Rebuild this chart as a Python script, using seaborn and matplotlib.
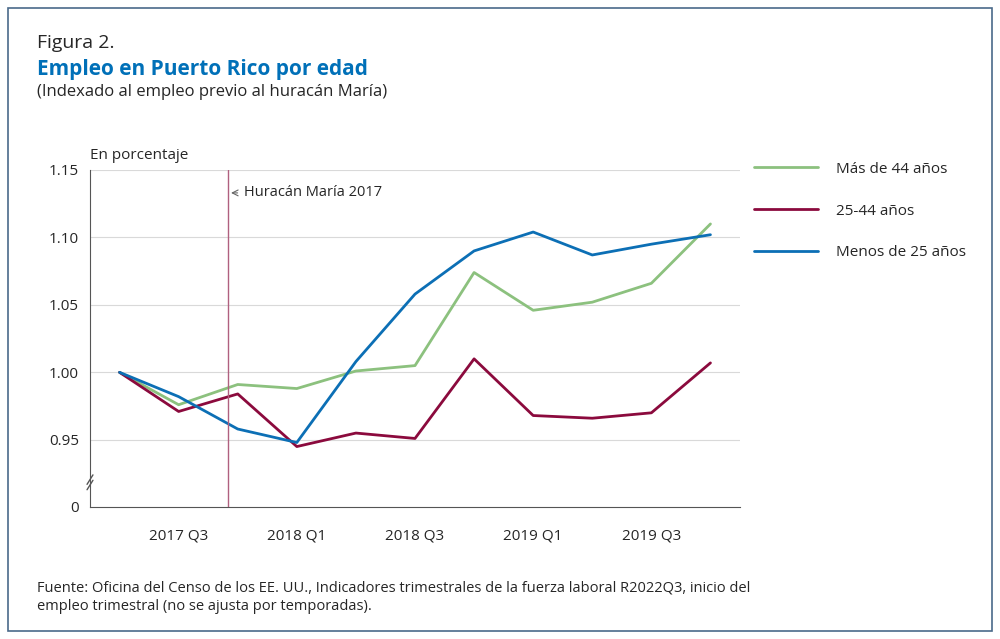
import matplotlib
matplotlib.use("Agg")
import matplotlib.pyplot as plt
import seaborn as sns
import pandas as pd
from matplotlib.patches import Rectangle

quarters = ["2017 Q2","2017 Q3","2017 Q4","2018 Q1","2018 Q2","2018 Q3","2018 Q4","2019 Q1","2019 Q2","2019 Q3","2019 Q4"]
mas_44 = [1.000,0.976,0.991,0.988,1.001,1.005,1.074,1.046,1.052,1.066,1.110]
de_25_44 = [1.000,0.971,0.984,0.945,0.955,0.951,1.010,0.968,0.966,0.970,1.007]
menos_25 = [1.000,0.982,0.958,0.948,1.008,1.058,1.090,1.104,1.087,1.095,1.102]
series_names = ["Más de 44 años","25-44 años","Menos de 25 años"]
colors = ["#8cc17e","#8b0a3d","#0c6fb5"]
ytick_vals = [0.95,1.00,1.05,1.10,1.15]
ytick_labels = ["0.95","1.00","1.05","1.10","1.15"]

rows = []
for name, vals in zip(series_names,[mas_44,de_25_44,menos_25]):
    for i,v in enumerate(vals):
        rows.append({"x":i,"v":v,"serie":name})
df = pd.DataFrame(rows)

sns.set_style("white")
plt.rcParams["font.family"] = ["Open Sans","DejaVu Sans"]
fig = plt.figure(figsize=(10,6.39), dpi=100)
fig.patches.append(Rectangle((0.008,0.012),0.984,0.976,transform=fig.transFigure,fill=False,edgecolor="#4a6a8a",lw=1.2))
ax = fig.add_axes([0.09,0.207,0.65,0.527])
sns.lineplot(data=df,x="x",y="v",hue="serie",palette=colors,hue_order=series_names,lw=2,ax=ax,legend=True)
ybot = 0.9004
ax.set_xlim(-0.5,10.5); ax.set_ylim(ybot,1.15)
ax.set_yticks([ybot]+ytick_vals); ax.set_yticklabels(["0"]+ytick_labels,fontsize=11)
ax.set_xticks(range(11))
ax.set_xticklabels([q if i%2==1 else "" for i,q in enumerate(quarters)],fontsize=11)
ax.tick_params(axis="x",length=8,color="#555",pad=8)
ax.tick_params(axis="y",length=0,pad=8)
for y in ytick_vals:
    ax.axhline(y,color="#d9d9d9",lw=0.8,zorder=0)
for s in ["top","right"]: ax.spines[s].set_visible(False)
ax.spines["left"].set_color("#555"); ax.spines["bottom"].set_color("#555")
ax.plot([-0.55,-0.45],[0.917,0.924],color="#555",lw=1,clip_on=False)
ax.plot([-0.55,-0.45],[0.913,0.920],color="#555",lw=1,clip_on=False)
ax.axvline(1.84,color="#b0607f",lw=1)
ax.annotate("Huracán María 2017",xy=(1.84,1.133),xytext=(2.1,1.133),fontsize=10.5,va="center",
            arrowprops=dict(arrowstyle="->",color="#666",lw=0.8))
ax.set_xlabel(""); ax.set_ylabel("")
ax.text(-0.5,1.158,"En porcentaje",fontsize=11)
leg = ax.legend(loc="upper left",bbox_to_anchor=(1.0,1.065),frameon=False,fontsize=11,
                labelspacing=1.75,handlelength=4.2,handletextpad=1.2)
for h in leg.get_lines(): h.set_linewidth(2)
fig.text(0.037,0.925,"Figura 2.",fontsize=14)
fig.text(0.037,0.882,"Empleo en Puerto Rico por edad",fontsize=15,fontweight="bold",color="#0070b8")
fig.text(0.037,0.850,"(Indexado al empleo previo al huracán María)",fontsize=12)
fig.text(0.037,0.045,"Fuente: Oficina del Censo de los EE. UU., Indicadores trimestrales de la fuerza laboral R2022Q3, inicio del\nempleo trimestral (no se ajusta por temporadas).",fontsize=10.5,linespacing=1.3)
fig.savefig("out.png",dpi=100)
